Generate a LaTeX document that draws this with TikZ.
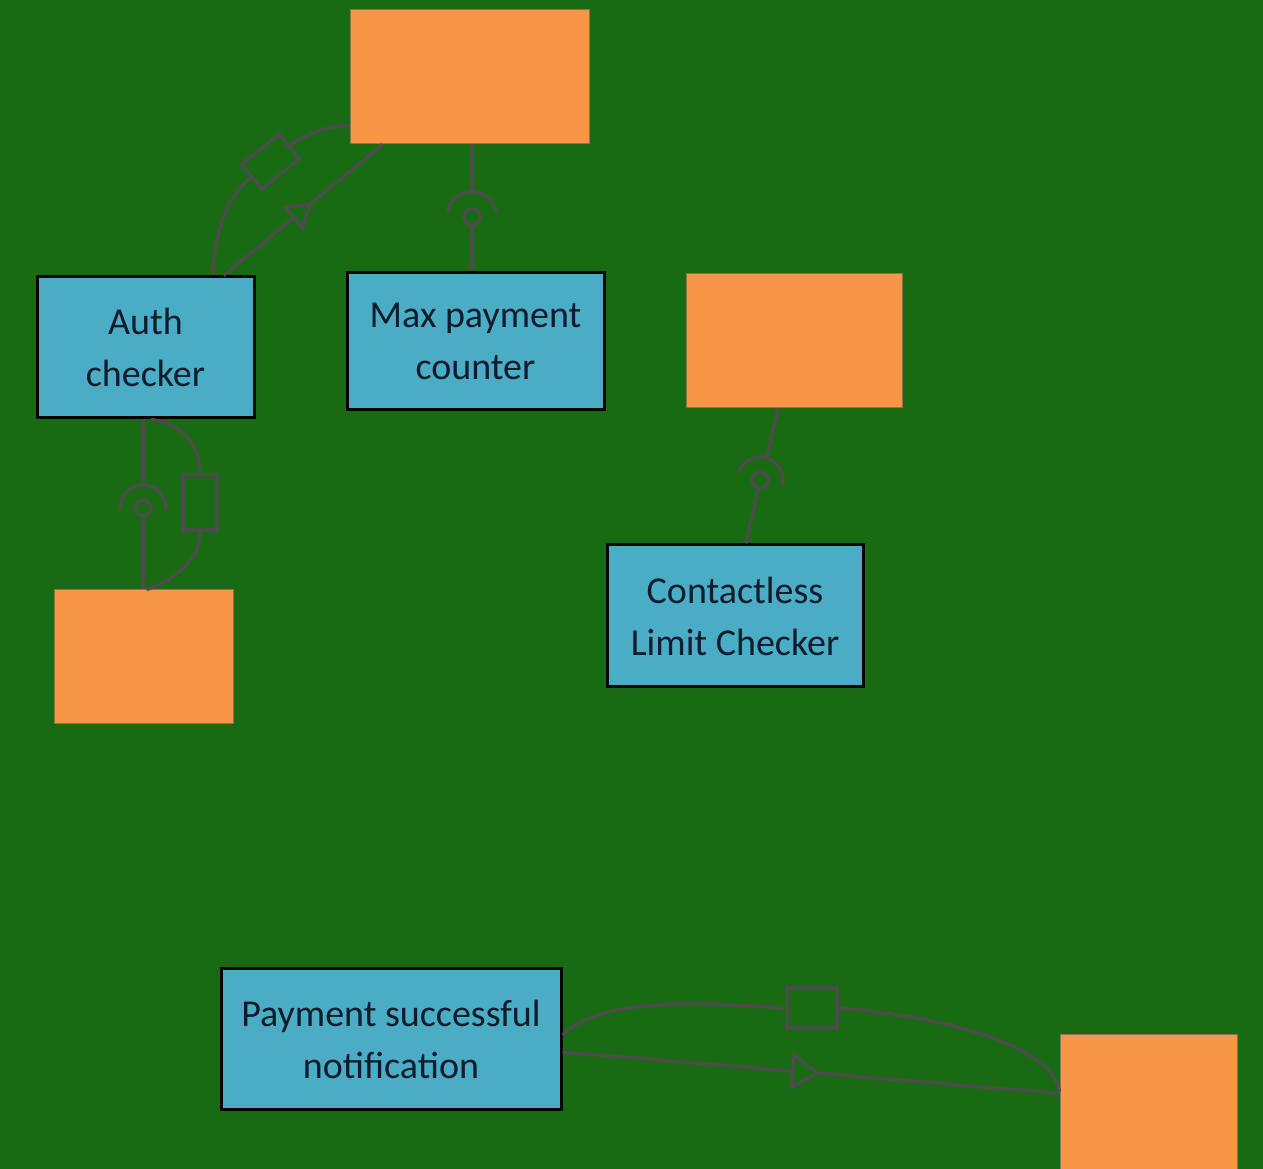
\documentclass[tikz,border=0pt]{standalone}
\usepackage{fontspec}
\setmainfont{Carlito}
\usetikzlibrary{arrows.meta,decorations.markings}
\definecolor{bg}{RGB}{24,107,18}
\definecolor{ifcorange}{RGB}{247,150,70}
\definecolor{ifcedge}{RGB}{150,110,80}
\definecolor{compblue}{RGB}{75,172,198}
\definecolor{ink}{RGB}{14,28,44}
\definecolor{wiregray}{RGB}{76,76,76}
\begin{document}
\begin{tikzpicture}[x=1pt,y=1pt,
  comp/.style={draw=black, line width=3pt, fill=compblue, text=ink, align=center,
    inner sep=0pt, font=\fontsize{38}{52}\selectfont},
  ifc/.style={draw=ifcedge, line width=1pt, fill=ifcorange, inner sep=0pt},
  wire/.style={draw=wiregray, line width=3.4pt},
  tagbox/.style={wire, inner sep=0pt},
  ball/.style={wire, circle, inner sep=0pt, minimum size=16pt},
  realize/.style 2 args={decoration={markings, mark=at position #1 with
    {\arrow{Triangle[length=#2, width=1.24*#2, fill=bg, line width=3.4pt]}}},
    postaction={decorate}}]
\fill[bg] (0,0) rectangle (1263,1169);
\useasboundingbox (0,0) rectangle (1263,1169);

% provided interfaces
\node[ifc, minimum width=239pt, minimum height=134pt] (ot) at (469.5,1092) {};
\node[ifc, minimum width=216pt, minimum height=134pt] (or) at (794,828) {};
\node[ifc, minimum width=179pt, minimum height=134pt] (ol) at (143.5,512) {};
\node[ifc, minimum width=177pt, minimum height=145pt] (ob) at (1148.5,61.5) {};

% components
\node[comp, minimum width=217pt, minimum height=141pt] (auth) at (145.5,821.5) {Auth\\checker};
\node[comp, minimum width=257pt, minimum height=137pt] (maxp) at (475.5,827.5) {Max payment\\counter};
\node[comp, minimum width=256pt, minimum height=142pt] (cont) at (735,553) {Contactless\\Limit Checker};
\node[comp, minimum width=340pt, minimum height=141pt] (pay) at (391,129.5) {Payment successful\\notification};

% auth checker <-> top interface
\node[tagbox, rotate=39, minimum width=48pt, minimum height=32pt] (agg1) at (270.5,1007.5) {};
\coordinate (a1s) at ([yshift=19pt]ot.south west);
\coordinate (a1e) at ([xshift=178pt]auth.north west);
\draw[wire] (a1s) .. controls +(-25,0) and +(12,9) .. (agg1.east);
\draw[wire] (agg1.west) .. controls +(-24,-20) and +(0,42) .. (a1e);
\coordinate (r1s) at ([xshift=188pt]auth.north west);
\coordinate (r1e) at ([xshift=33pt]ot.south west);
\draw[wire, realize={0.56}{26pt}] (r1s) -- (r1e);

% max payment counter requires top interface
\coordinate (s1) at (472,952);
\node[ball] (b1) at (s1) {};
\draw[wire] ([shift={(10:25pt)}]s1) arc[start angle=10, end angle=170, radius=25pt];
\draw[wire] (ot.south -| s1) -- ([yshift=25pt]s1);
\draw[wire] (b1.south) -- (b1.south |- maxp.north);

% auth checker <-> lower-left interface
\coordinate (s2) at (143,661);
\node[ball] (b2) at (s2) {};
\draw[wire] ([shift={(-5:23pt)}]s2) arc[start angle=-5, end angle=185, radius=23pt];
\draw[wire] (auth.south -| s2) -- ([yshift=23pt]s2);
\draw[wire] (b2.south) -- (b2.south |- ol.north);
\node[tagbox, minimum width=34pt, minimum height=55pt] (agg2) at (200,666.5) {};
\coordinate (a2s) at ([xshift=115pt]auth.south west);
\coordinate (a2e) at ([xshift=93pt]ol.north west);
\draw[wire] (a2s) .. controls +(28,-3) and +(0,31) .. (agg2.north);
\draw[wire] (agg2.south) .. controls +(0,-27) and +(31,11) .. (a2e);

% contactless limit checker requires right interface
\coordinate (s3) at (760,689);
\node[ball] (b3) at (s3) {};
\draw[wire] ([shift={(-15:23pt)}]s3) arc[start angle=-15, end angle=160, radius=23pt];
\coordinate (c3s) at ([xshift=-16pt]or.south);
\coordinate (c3e) at ([xshift=11pt]cont.north);
\draw[wire] (c3s) -- ([shift={(74:23pt)}]s3);
\draw[wire] (b3.257) -- (c3e);

% payment notification <-> bottom-right interface
\node[tagbox, minimum width=50pt, minimum height=40pt] (agg3) at (812,161) {};
\coordinate (a3s) at ([yshift=4.5pt]pay.east);
\coordinate (a3e) at ([yshift=16pt]ob.west);
\draw[wire] (a3s) .. controls +(39,38) and +(-87,6) .. (agg3.west);
\draw[wire] (agg3.east) .. controls +(118,-10) and +(-8,44) .. (a3e);
\coordinate (r3s) at ([yshift=-12.5pt]pay.east);
\coordinate (r3e) at ([yshift=14pt]ob.west);
\draw[wire, realize={0.52}{30pt}] (r3s) -- (r3e);
\end{tikzpicture}
\end{document}
